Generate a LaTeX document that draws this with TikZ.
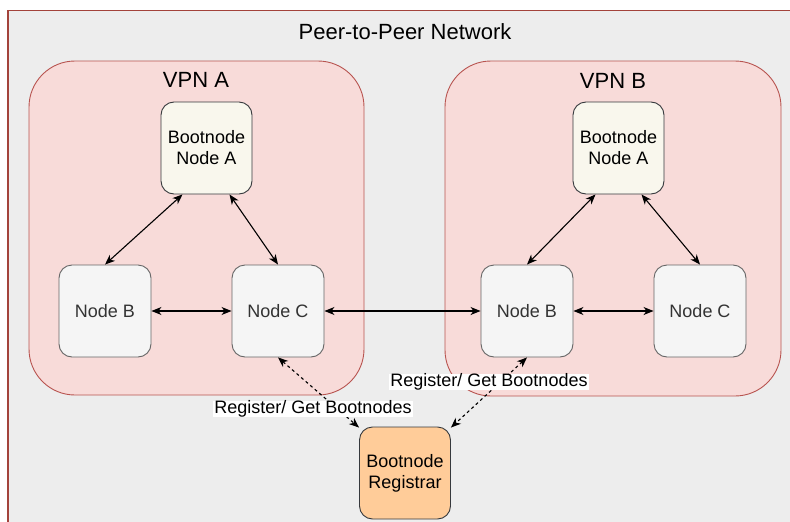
\documentclass[tikz,border=0pt]{standalone}
\usepackage{fontspec}
\setmainfont{Liberation Sans}
\usetikzlibrary{arrows.meta,calc}
\definecolor{outerfill}{HTML}{EDEDED}
\definecolor{outerline}{HTML}{A3433B}
\definecolor{vpnfill}{HTML}{F8DBD9}
\definecolor{vpnline}{HTML}{B85450}
\definecolor{bootfill}{HTML}{F9F7ED}
\definecolor{darkline}{HTML}{36393D}
\definecolor{plainfill}{HTML}{F5F5F5}
\definecolor{plainline}{HTML}{666666}
\definecolor{plaintext}{HTML}{333333}
\definecolor{regfill}{HTML}{FFCC99}
\tikzset{
  vpnbox/.style={draw=vpnline, fill=vpnfill, line width=0.9pt, rounded corners=46pt, inner sep=0pt},
  bootbox/.style={draw=darkline, fill=bootfill, line width=0.9pt, rounded corners=13pt,
    minimum width=91pt, minimum height=92pt, inner sep=0pt, align=center,
    font=\fontsize{18}{21}\selectfont},
  plainbox/.style={draw=plainline, fill=plainfill, line width=0.9pt, rounded corners=13pt,
    minimum width=92pt, minimum height=92pt, inner sep=0pt, align=center,
    text=plaintext, font=\fontsize{18}{21}\selectfont},
  regbox/.style={bootbox, fill=regfill},
  link/.style={line width=1.1pt, {Stealth[length=10pt,width=8pt,inset=3pt]}-{Stealth[length=10pt,width=8pt,inset=3pt]}},
  dlink/.style={link, dash pattern=on 3pt off 3pt},
  lbl/.style={fill=white, inner xsep=1pt, inner ysep=0pt, font=\fontsize{18}{20}\selectfont},
  title/.style={font=\fontsize{22}{26}\selectfont}
}
\begin{document}
\begin{tikzpicture}[x=1pt,y=-1pt]
\useasboundingbox (0,0) rectangle (790,522);
\fill[white] (0,0) rectangle (790,522);
\path[draw=outerline, fill=outerfill, line width=1.2pt] (8,10.5) rectangle (805,540);
\node[title] (ptitle) at (405,32) {Peer-to-Peer Network};

\node[vpnbox, minimum width=335pt, minimum height=334pt] (vpna) at (196.5,228) {};
\node[vpnbox, minimum width=336pt, minimum height=335pt] (vpnb) at (613,228.5) {};
\node[title] (vpnalabel) at (196,80) {VPN A};
\node[title] (vpnblabel) at (613,81) {VPN B};

\node[bootbox] (boota) at (206.5,148) {Bootnode\\Node A};
\node[plainbox] (nba) at (105,311) {Node B};
\node[plainbox] (nca) at (278,311) {Node C};

\node[bootbox] (bootb) at (618.5,148) {Bootnode\\Node A};
\node[plainbox] (nbb) at (527,311) {Node B};
\node[plainbox] (ncb) at (700,311) {Node C};

\node[regbox] (reg) at (405,473) {Bootnode\\Registrar};

\draw[link] ($(boota.south)+(-24,0)$) -- (nba.north);
\draw[link] ($(boota.south)+(23,0)$) -- (nca.north);
\draw[link] (nba.east) -- (nca.west);
\draw[link] (nca.east) -- (nbb.west);
\draw[link] ($(bootb.south)+(-23,0)$) -- (nbb.north);
\draw[link] ($(bootb.south)+(23,0)$) -- (ncb.north);
\draw[link] (nbb.east) -- (ncb.west);

\draw[dlink] (nca.south) -- ($(reg.north west)+(0,1)$);
\draw[dlink] (nbb.south) -- ($(reg.north east)+(0,1)$);
\node[lbl] (lbla) at (313,409) {Register/ Get Bootnodes};
\node[lbl] (lblb) at (489,382) {Register/ Get Bootnodes};
\end{tikzpicture}
\end{document}
